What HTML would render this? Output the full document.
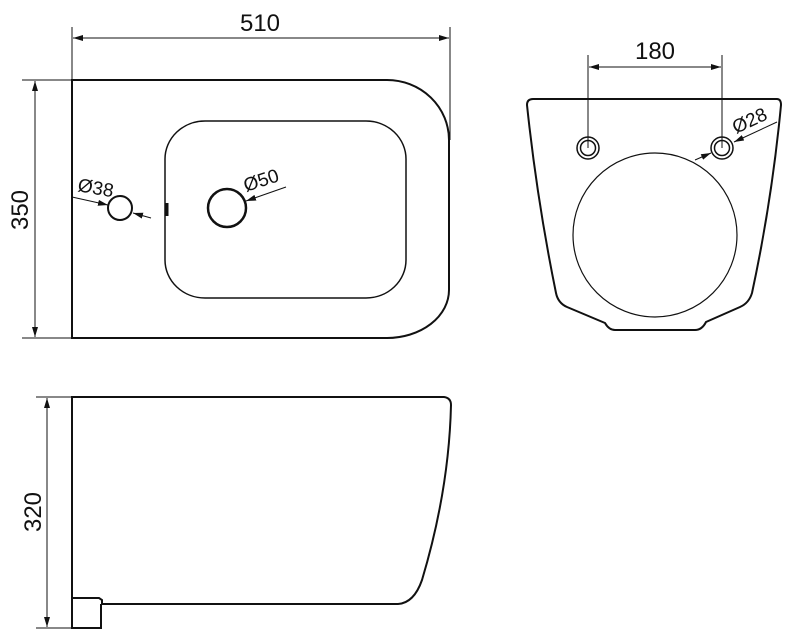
<!DOCTYPE html>
<html><head><style>body{margin:0;background:#fff}svg{display:block}text{font-family:"Liberation Sans","DejaVu Sans",sans-serif;fill:#111}</style></head>
<body>
<svg width="800" height="640" viewBox="0 0 800 640" xmlns="http://www.w3.org/2000/svg">
<defs>
<marker id="a" viewBox="0 0 10 6" refX="10" refY="3" markerWidth="10" markerHeight="6" orient="auto-start-reverse" markerUnits="userSpaceOnUse"><path d="M0,0L10,3L0,6z" fill="#111"/></marker>
</defs>
<g fill="none" stroke="#111">
<path d="M72,80 H387 A62,60 0 0 1 449,140 V290 A62,48 0 0 1 387,338 H72 Z" stroke-width="2"/>
<rect x="165" y="121" width="241" height="177" rx="40" ry="38" stroke-width="1.5"/>
<circle cx="120" cy="208" r="12" stroke-width="2"/>
<circle cx="227" cy="208" r="19" stroke-width="2.5"/>
<line x1="167" y1="203" x2="167" y2="216" stroke-width="3"/>
<line x1="72" y1="197" x2="108" y2="205" stroke-width="1" marker-end="url(#a)"/>
<line x1="151" y1="218" x2="133" y2="213" stroke-width="1" marker-end="url(#a)"/>
<line x1="286" y1="187" x2="246" y2="201" stroke-width="1" marker-end="url(#a)"/>
<line x1="72" y1="27" x2="72" y2="80" stroke-width="1"/>
<line x1="450" y1="27" x2="450" y2="140" stroke-width="1"/>
<line x1="73" y1="38" x2="449" y2="38" stroke-width="1" marker-start="url(#a)" marker-end="url(#a)"/>
<line x1="22" y1="80" x2="72" y2="80" stroke-width="1"/>
<line x1="22" y1="338" x2="72" y2="338" stroke-width="1"/>
<line x1="35" y1="81" x2="35" y2="337" stroke-width="1" marker-start="url(#a)" marker-end="url(#a)"/>
<path d="M533,99 H777 Q781,99 781,105 Q772,200 752,293 Q749,303 740,307 L706,322 Q702,330 695,330 H615 Q609,330 605,323 L567,307 Q558,303 556,293 Q537,200 527,105 Q527,99 533,99 Z" stroke-width="2"/>
<circle cx="588" cy="148" r="11" stroke-width="1.5"/>
<circle cx="588" cy="148" r="7.5" stroke-width="1.5"/>
<circle cx="722" cy="148" r="11" stroke-width="1.5"/>
<circle cx="722" cy="148" r="7.5" stroke-width="1.5"/>
<circle cx="655" cy="235" r="82" stroke-width="1.2"/>
<line x1="588" y1="55" x2="588" y2="148" stroke-width="1"/>
<line x1="722" y1="55" x2="722" y2="148" stroke-width="1"/>
<line x1="589" y1="67" x2="721" y2="67" stroke-width="1" marker-start="url(#a)" marker-end="url(#a)"/>
<line x1="777" y1="122" x2="734" y2="142" stroke-width="1" marker-end="url(#a)"/>
<line x1="695" y1="160" x2="711" y2="153" stroke-width="1" marker-end="url(#a)"/>
<path d="M72,397 H444 Q451,398 451,405 Q449,490 422,580 Q414,603 398,604 H102 V600 L99,598 H72 Z" stroke-width="2"/>
<path d="M72,598 V628 H101 V604" stroke-width="2"/>
<line x1="36" y1="397" x2="72" y2="397" stroke-width="1"/>
<line x1="36" y1="628" x2="72" y2="628" stroke-width="1"/>
<line x1="47" y1="398" x2="47" y2="627" stroke-width="1" marker-start="url(#a)" marker-end="url(#a)"/>
</g>
<text x="260" y="31" font-size="24" text-anchor="middle">510</text>
<text x="655" y="59" font-size="24" text-anchor="middle">180</text>
<text transform="translate(28,210) rotate(-90)" font-size="24" text-anchor="middle">350</text>
<text transform="translate(41,512) rotate(-90)" font-size="24" text-anchor="middle">320</text>
<text transform="translate(77,191) rotate(10)" font-size="19">Ø38</text>
<text transform="translate(246,192) rotate(-18)" font-size="19">Ø50</text>
<text transform="translate(736,134) rotate(-25)" font-size="19">Ø28</text>
</svg>
</body></html>
